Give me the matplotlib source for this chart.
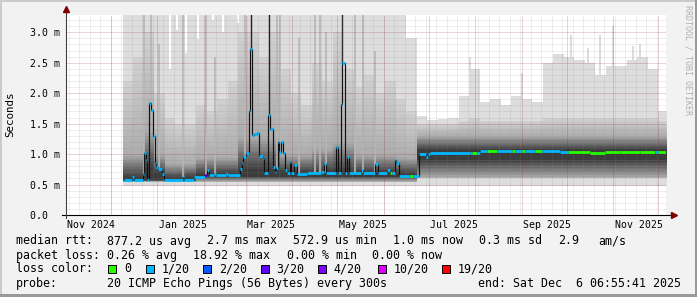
import numpy as np
import pandas as pd
import matplotlib
matplotlib.use("Agg")
import matplotlib.pyplot as plt
from matplotlib.patches import Rectangle
from matplotlib.colors import to_rgb

W, H = 697, 297
MONO = "DejaVu Sans Mono"

# ---- time range (400 days ending at graph end) ----
t_start = pd.Timestamp("2024-11-01 06:55:41")
t_end = pd.Timestamp("2025-12-06 06:55:41")

def day(ts):
    return (pd.Timestamp(ts) - t_start).total_seconds() / 86400.0

total_days = day(t_end)

# ---- smoke, one value per week starting 2024-12-09 (milliseconds) ----
week0 = "2024-12-09"
smoke_max = [3.3, 3.3, 3.3, 3.3, 3.3, 3.3, 3.3, 3.3, 3.3, 3.3,
             3.3, 3.3, 3.3, 3.3, 3.3, 3.3, 3.3, 3.3, 3.3, 3.3,
             3.3, 3.3, 3.3, 3.3, 3.3, 3.3, 3.3, 2.9,
             1.62, 1.56, 1.58, 1.6, 1.95, 2.4, 1.85, 1.9, 1.8, 1.95,
             1.9, 1.85, 2.5, 2.65, 2.6, 2.55, 2.5, 2.3, 2.45, 2.45,
             2.55, 2.6, 2.4, 1.7]
smoke_hi = [2.2, 2.6, 3.0, 2.0, 1.6, 1.5, 1.5, 1.8, 1.7, 1.9,
            2.2, 3.0, 3.0, 2.6, 3.0, 2.4, 2.0, 1.8, 2.5, 2.2,
            3.0, 2.4, 2.1, 2.3, 2.0, 2.2, 1.9, 1.7,
            1.5, 1.5, 1.5, 1.5, 1.55, 1.6, 1.55, 1.55, 1.55, 1.55,
            1.55, 1.55, 1.6, 1.6, 1.6, 1.6, 1.6, 1.6, 1.6, 1.6,
            1.6, 1.6, 1.6, 1.55]
smoke_mid = [1.0, 1.0, 1.4, 1.0, 0.85, 0.85, 0.85, 0.95, 0.95, 0.95,
             0.95, 1.3, 1.3, 1.3, 1.3, 1.0, 1.0, 1.0, 1.1, 1.1,
             1.2, 1.2, 1.0, 1.0, 1.0, 1.0, 0.95, 0.95,
             1.3, 1.3, 1.3, 1.3, 1.3, 1.3, 1.3, 1.3, 1.3, 1.3,
             1.3, 1.3, 1.3, 1.3, 1.3, 1.3, 1.3, 1.3, 1.3, 1.3,
             1.3, 1.3, 1.3, 1.3]
core_hi = [0.63, 0.63, 0.78, 0.7, 0.61, 0.61, 0.63, 0.68, 0.69, 0.69,
           0.69, 0.76, 0.76, 0.76, 0.76, 0.72, 0.71, 0.71, 0.71, 0.73,
           0.74, 0.73, 0.71, 0.71, 0.71, 0.71, 0.69, 0.68,
           1.08, 1.08, 1.08, 1.08, 1.08, 1.08, 1.08, 1.08, 1.08, 1.08,
           1.08, 1.08, 1.08, 1.08, 1.08, 1.08, 1.08, 1.08, 1.08, 1.08,
           1.08, 1.08, 1.08, 1.08]
core_lo = [0.57] * 7 + [0.63] * 21 + [0.9] * 24
smoke_lo = [0.55] * 28 + [0.6] * 24
smoke_min = [0.48] * 28 + [0.48] * 24

# streaks inside the smoke (days since start, top in ms)
dark_streak_day = [123.0, 135.33, 184.33]
dark_streak_top = [3.3, 3.3, 3.3]
gray_streak_day = [51.67, 56.67, 62.0, 78.0, 93.0, 99.33, 119.33, 140.67,
                   142.67, 155.0, 166.0, 169.33, 173.33, 192.67, 198.33, 206.0]
gray_streak_top = [3.3, 3.3, 2.8, 3.3, 3.3, 2.6, 3.3, 3.3,
                   3.3, 2.9, 3.3, 3.3, 3.0, 3.3, 3.3, 2.7]
gap_day = [69.0, 73.67, 80.33, 88.33, 97.67, 104.67, 114.67]
gap_bottom = [2.4, 3.04, 2.66, 2.89, 3.2, 3.0, 3.15]
peak_day = [269.33, 304.0, 336.67, 348.0, 356.0, 364.67, 378.0, 382.67]
peak_top = [2.6, 2.33, 2.95, 2.74, 2.95, 3.1, 2.77, 2.8]

# ---- median rtt (days since start, ms, lost pings of 20) ----
med_day = [38.67, 44.0, 45.0, 51.0, 52.33, 53.33, 54.33, 55.33, 56.67, 58.0,
           59.0, 60.0, 61.33, 63.67, 65.33, 77.67, 78.67, 85.0, 92.67, 93.67,
           94.33, 95.33, 98.67, 100.0, 106.67, 108.0, 116.0, 117.0, 118.33, 120.33,
           121.67, 122.67, 123.67, 125.33, 127.33, 128.67, 131.0, 132.0, 134.67, 136.0,
           137.67, 139.33, 140.33, 141.33, 142.33, 143.33, 144.67, 146.0, 147.0, 149.0,
           150.33, 152.33, 153.67, 160.67, 170.0, 171.67, 173.0, 179.67, 181.0, 183.0,
           184.33, 185.67, 187.33, 188.67, 196.67, 198.0, 206.33, 207.67, 214.33, 215.67,
           217.0, 219.0, 220.33, 221.67, 229.33, 231.0,
           235.0, 239.67, 241.0, 242.67, 269.33, 270.67, 274.0, 276.0, 280.67, 287.33,
           297.33, 299.33, 304.0, 306.0, 312.67, 317.33, 329.33, 334.67, 349.33, 359.33,
           369.33, 382.67, 392.67, 394.67]
med_ms = [0.575, 0.62, 0.575, 0.68, 1.01, 0.90, 0.58, 1.84, 1.72, 1.29,
          0.85, 0.78, 0.75, 0.68, 0.57, 0.62, 0.57, 0.63, 0.655, 0.655,
          0.74, 0.655, 0.68, 0.655, 0.68, 0.655, 0.75, 0.85, 0.95, 1.02,
          1.70, 2.73, 1.31, 1.33, 1.35, 0.97, 0.93, 0.69, 1.64, 1.42,
          0.79, 0.71, 0.77, 1.2, 1.04, 1.2, 1.01, 0.74, 0.69, 0.875,
          0.69, 0.82, 0.67, 0.69, 0.71, 0.83, 0.69, 1.12, 0.69, 1.83,
          2.5, 0.69, 0.96, 0.69, 0.74, 0.69, 0.83, 0.69, 0.74, 0.69,
          0.69, 0.9, 0.85, 0.64, 0.64, 0.64,
          1.0, 0.96, 1.0, 1.01, 1.02, 1.02, 1.02, 1.045, 1.045, 1.045,
          1.045, 1.045, 1.045, 1.045, 1.045, 1.045, 1.035, 1.035, 1.025, 1.04,
          1.03, 1.035, 1.035, 1.035]
med_loss = [1] * 18 + [3] + [1] * 50 + [0] + [1] * 4 + [0, 1] + \
           [1, 1, 1, 1, 1, 0, 1, 1, 0, 1,
            0, 1, 0, 1, 0, 1, 1, 0, 0, 0,
            0, 0, 1, 0]

loss_colors = {0: "#26ff00", 1: "#00b8ff", 2: "#0059ff", 3: "#5e00ff",
               4: "#7e00ff", 10: "#dd00ff", 19: "#ff0000"}
legend_loss = [0, 1, 2, 3, 4, 10, 19]
legend_text = ["0", "1/20", "2/20", "3/20", "4/20", "10/20", "19/20"]

y_ticks = [0.0, 0.5, 1.0, 1.5, 2.0, 2.5, 3.0]
y_labels = ["0.0  ", "0.5 m", "1.0 m", "1.5 m", "2.0 m", "2.5 m", "3.0 m"]
x_label_months = ["2024-11-01", "2025-01-01", "2025-03-01", "2025-05-01",
                  "2025-07-01", "2025-09-01", "2025-11-01"]
x_labels = ["Nov 2024", "Jan 2025", "Mar 2025", "May 2025",
            "Jul 2025", "Sep 2025", "Nov 2025"]

# ---- figure ----
fig = plt.figure(figsize=(W / 100, H / 100), dpi=100, facecolor="#f2f2f2")
ax = fig.add_axes([66 / W, 1 - 215 / H, 600 / W, 200.5 / H])
ax.set_facecolor("white")
ax.set_xlim(0, total_days)
ax.set_ylim(0, 3.292)
for s in ax.spines.values():
    s.set_visible(False)

# smoke
edges = day(week0) + 7 * np.arange(len(smoke_max) + 1)
def ext(a):
    a = np.asarray(a, float)
    return np.append(a, a[-1])

lows = [ext(smoke_min), ext(smoke_lo), ext(smoke_lo), ext(core_lo)]
highs = [ext(smoke_max), ext(smoke_hi), ext(smoke_mid), ext(core_hi)]
shades = [np.array(to_rgb(c)) for c in ["#dddddd", "#d0d0d0", "#ababab", "#3c3c3c"]]

for d, top in zip(peak_day, peak_top):
    ax.vlines(d, 1.5, top, color="#dddddd", lw=1.4, zorder=0.9)

ax.fill_between(edges, lows[0], highs[0], step="post", color=shades[0], lw=0, zorder=1)
nsub = 12
for i in (1, 2):
    for j in range(nsub):
        t = j / nsub
        lo = (1 - t) * lows[i] + t * lows[i + 1]
        hi = (1 - t) * highs[i] + t * highs[i + 1]
        col = (1 - t) * shades[i] + t * shades[i + 1]
        ax.fill_between(edges, lo, hi, step="post", color=col, lw=0, zorder=1)
ax.fill_between(edges, lows[3], highs[3], step="post", color=shades[3], lw=0, zorder=1)

def median_at(d):
    k = max(np.searchsorted(med_day, d, side="right") - 1, 0)
    return med_ms[k]

for d, top in zip(gray_streak_day, gray_streak_top):
    ax.vlines(d, median_at(d), top, color="#b6b6b6", lw=1.2, zorder=1.5)
for d, top in zip(dark_streak_day, dark_streak_top):
    ax.vlines(d, median_at(d), top, color="#202020", lw=1.0, zorder=1.6)
for d, b in zip(gap_day, gap_bottom):
    ax.vlines(d, b, 3.4, color="white", lw=1.5, zorder=1.7)

# grid (rrdtool style dotted)
minor_c = (0.55, 0.55, 0.55, 0.28)
major_c = (0.51, 0.12, 0.12, 0.37)
dots = (0, (1, 1))
weeks = [day(t) for t in pd.date_range("2024-11-03", t_end, freq="7D")]
months = [day(t) for t in pd.date_range("2024-12-01", t_end, freq="MS")]
ax.vlines(weeks, 0, 3.292, colors=[minor_c], lw=0.72, linestyles=dots, zorder=2.5)
ax.vlines(months, 0, 3.292, colors=[major_c], lw=0.72, linestyles=dots, zorder=2.6)
minor_y = [v / 10 for v in range(1, 33) if v % 5]
ax.hlines(minor_y, 0, total_days, colors=[minor_c], lw=0.72, linestyles=dots, zorder=2.5)
ax.hlines(y_ticks[1:], 0, total_days, colors=[major_c], lw=0.72, linestyles=dots, zorder=2.6)

# median line
ax.step(med_day + [total_days], med_ms + [med_ms[-1]], where="post",
        color="#111111", lw=0.85, zorder=3)
seg_end = med_day[1:] + [total_days]
for d0, d1, v, loss in zip(med_day, seg_end, med_ms, med_loss):
    ax.hlines(v, d0, d1, color=loss_colors[loss], lw=2.0, zorder=4)

# axes with arrows
ax.plot([-0.006, 1.012], [0, 0], transform=ax.transAxes, color="black",
        lw=0.8, clip_on=False, zorder=6)
ax.plot([0, 0], [-0.015, 1.02], transform=ax.transAxes, color="#404040",
        lw=0.8, clip_on=False, zorder=6)
ax.plot([1.0125], [0], transform=ax.transAxes, marker=">", ms=4.5,
        color="#7f0000", clip_on=False, zorder=7)
ax.plot([0], [1.025], transform=ax.transAxes, marker="^", ms=4.5,
        color="#7f0000", clip_on=False, zorder=7)

# ticks
ax.set_yticks(y_ticks)
ax.set_yticklabels(y_labels, fontfamily=MONO, fontsize=7.1)
ax.set_xticks([day(pd.Timestamp(m) + pd.Timedelta(days=17)) for m in x_label_months])
ax.set_xticklabels(x_labels, fontfamily=MONO, fontsize=7.1)
ax.tick_params(axis="y", length=0, pad=4.5)
ax.tick_params(axis="x", length=0, pad=3.5)

def ftext(x, y, s, **kw):
    kw.setdefault("fontfamily", MONO)
    kw.setdefault("fontsize", 8.35)
    kw.setdefault("va", "center")
    fig.text(x / W, 1 - y / H, s, **kw)

ftext(10.5, 114, "Seconds", rotation=90, ha="center", fontsize=7.8)
ftext(688, 5, "RRDTOOL / TOBI OETIKER", rotation=270, ha="center", va="top",
      fontsize=6.0, color="#b0b0b0")

# legend
line1 = [("median rtt:", 16), ("877.2 us avg", 107.3), ("2.7 ms max", 207.3),
         ("572.9 us min", 292.7), ("1.0 ms now", 393.3), ("0.3 ms sd", 479.3),
         ("2.9", 558.3), ("am/s", 598.3)]
line2 = [("packet loss:", 16), ("0.26 % avg", 107.3), ("18.92 % max", 193.3),
         ("0.00 % min", 286.7), ("0.00 % now", 372.3)]
line4 = [("probe:", 16), ("20 ICMP Echo Pings (56 Bytes) every 300s", 107.3),
         ("end: Sat Dec  6 06:55:41 2025", 478.3)]
for y, items in ((241, line1), (255.7, line2), (283.3, line4)):
    for s, x in items:
        ftext(x, y, s, ha="left")
ftext(16, 269, "loss color:", ha="left")
box_x = [108.3, 146, 203.3, 260.7, 318.3, 377.7, 441.7]
for bx, loss, lab in zip(box_x, legend_loss, legend_text):
    fig.add_artist(Rectangle((bx / W, 1 - 273 / H), 8 / W, 8 / H,
                             transform=fig.transFigure, facecolor=loss_colors[loss],
                             edgecolor="black", lw=0.7))
    ftext(bx + 15.5, 269, lab, ha="left")

# frame shading
for (x, y, w, h, c) in [(0, 0, W, 2, "#cbcbcb"), (0, 0, 2, H, "#cbcbcb"),
                        (W - 2.5, 0, 2.5, H, "#999999"), (0, H - 3, W, 3, "#999999")]:
    fig.add_artist(Rectangle((x / W, 1 - (y + h) / H), w / W, h / H,
                             transform=fig.transFigure, color=c, lw=0))

fig.savefig("out.png", dpi=100, facecolor=fig.get_facecolor())
